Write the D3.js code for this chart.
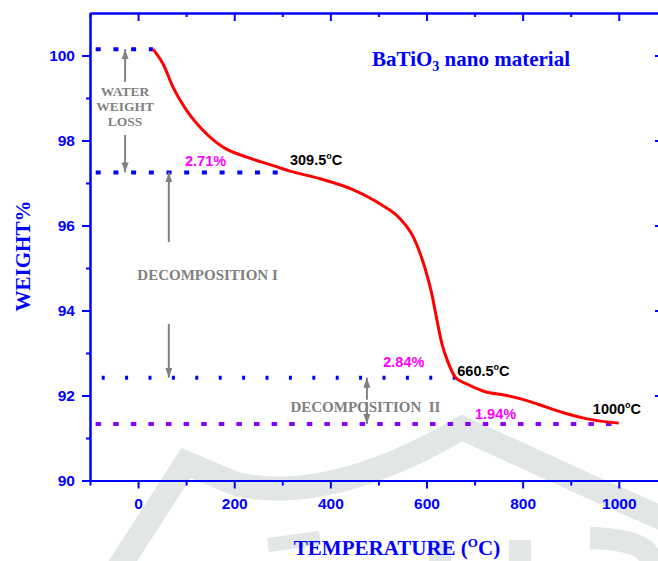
<!DOCTYPE html>
<html>
<head>
<meta charset="utf-8">
<script src="https://cdn.jsdelivr.net/npm/d3@7"></script>
<style>
    body { margin: 0; background: #fff; }
    svg { display: block; }
</style>
</head>
<body>
<div id="chart"></div>
<script>
// TGA curve of BaTiO3 nano material
var tempC = [31, 52, 73, 101, 135, 177, 226, 281, 316, 379, 448, 503, 545, 573, 594, 611, 622, 632, 646, 660, 684, 719, 767, 809, 851, 892, 934, 1000];
var weightPct = [100.15, 99.80, 99.25, 98.71, 98.24, 97.84, 97.61, 97.41, 97.28, 97.10, 96.84, 96.51, 96.16, 95.72, 95.10, 94.39, 93.76, 93.22, 92.75, 92.43, 92.27, 92.10, 92.00, 91.88, 91.72, 91.57, 91.45, 91.35];

// Dotted reference levels: weight and the temperature where each one stops
var levelWeight = [100.15, 97.25, 92.42, 91.33];
var levelEndT = [31, 316, 660, 1000];

// Step labels
var lossLabels = ["2.71%", "2.84%", "1.94%"];
var tempLabels = ["309.5", "660.5", "1000"];

// Ticks
var xMajor = [0, 200, 400, 600, 800, 1000];
var xMinor = [-100, 100, 300, 500, 700, 900];
var yMajor = [90, 92, 94, 96, 98, 100];
var yMinor = [91, 93, 95, 97, 99];

var W = 658, H = 561;
var margin = { top: 13, left: 90, right: 663, bottom: 480.5 };

var svg = d3.select("#chart").append("svg")
    .attr("width", W)
    .attr("height", H);

var xScale = d3.scaleLinear().domain([-100, 1092]).range([margin.left, margin.right]);
var yScale = d3.scaleLinear().domain([90, 101]).range([margin.bottom, margin.top]);

var blue = "#0000ff", grey = "#808080", magenta = "#ff00ff", violet = "#8a00ff";
var serif = "'Liberation Serif', 'Times New Roman', serif";
var sans = "'Liberation Sans', Arial, sans-serif";

// faint watermark in the background
var wm = svg.append("g").attr("fill", "none").attr("stroke", "#e2e6e6");
wm.append("path")
    .attr("d", "M112,578 L186,463 Q212,474 236,484 Q330,505 462,428 L580,482 Q625,502 670,522")
    .attr("stroke-width", 24);
wm.append("path").attr("d", "M268,545 L320,538").attr("stroke-width", 14);
wm.append("path").attr("d", "M440,540 L440,561 M520,540 L520,561").attr("stroke-width", 22);
wm.append("path").attr("d", "M590,538 Q650,540 650,561").attr("stroke-width", 22);

// dotted levels
var dashes = ["5,12.7", "5,12.7", "3,20.4", "5.5,12.1"];
var levelColor = [blue, blue, blue, violet];
svg.selectAll(".level")
    .data(levelWeight)
  .enter().append("line")
    .attr("class", "level")
    .attr("x1", xScale(-100))
    .attr("x2", function(d, i) { return xScale(levelEndT[i]); })
    .attr("y1", function(d) { return yScale(d); })
    .attr("y2", function(d) { return yScale(d); })
    .attr("stroke", function(d, i) { return levelColor[i]; })
    .attr("stroke-width", 4)
    .attr("stroke-dasharray", function(d, i) { return dashes[i]; })
    .attr("stroke-dashoffset", function(d, i) { return i == 2 ? 11.7 : 12; });

// arrows
var defs = svg.append("defs");
defs.append("marker")
    .attr("id", "arrow")
    .attr("markerUnits", "userSpaceOnUse")
    .attr("viewBox", "0 -4 10 8")
    .attr("refX", 10).attr("refY", 0)
    .attr("markerWidth", 10).attr("markerHeight", 8)
    .attr("orient", "auto")
  .append("path")
    .attr("d", "M0,-3.5L10,0L0,3.5Z")
    .attr("fill", grey);

var arrows = [
    [-27, 99.38, 100.15], [-27, 98.13, 97.25],
    [64, 95.61, 97.25], [64, 93.68, 92.42],
    [476, 91.9, 92.42], [476, 91.85, 91.33]
];
svg.selectAll(".arrow")
    .data(arrows)
  .enter().append("line")
    .attr("class", "arrow")
    .attr("x1", function(d) { return xScale(d[0]); })
    .attr("x2", function(d) { return xScale(d[0]); })
    .attr("y1", function(d) { return yScale(d[1]); })
    .attr("y2", function(d) { return yScale(d[2]); })
    .attr("stroke", grey)
    .attr("stroke-width", 2)
    .attr("marker-end", "url(#arrow)");

// curve
var line = d3.line()
    .x(function(d) { return xScale(d[0]); })
    .y(function(d) { return yScale(d[1]); })
    .curve(d3.curveMonotoneX);

svg.append("path")
    .datum(d3.zip(tempC, weightPct))
    .attr("d", line)
    .attr("fill", "none")
    .attr("stroke", "#ff0000")
    .attr("stroke-width", 3);

// grey region labels (water label wrapped over three lines in one text)
var water = svg.append("text")
    .attr("x", xScale(-27))
    .attr("y", yScale(99.04))
    .attr("text-anchor", "middle")
    .style("font-family", serif)
    .style("font-weight", "bold")
    .style("font-size", "13.5px")
    .style("fill", grey);
["WATER", "WEIGHT", "LOSS"].forEach(function(s, i) {
    water.append("tspan")
        .attr("x", xScale(-27))
        .attr("dy", i == 0 ? 0 : 15)
        .text(s);
});

var regionText = [
    ["DECOMPOSITION I", 144.5, 94.72], ["DECOMPOSITION\u00a0\u00a0II", 473, 91.61]
];
svg.selectAll(".region")
    .data(regionText)
  .enter().append("text")
    .attr("class", "region")
    .attr("x", function(d) { return xScale(d[1]); })
    .attr("y", function(d) { return yScale(d[2]); })
    .attr("text-anchor", "middle")
    .style("font-family", serif)
    .style("font-weight", "bold")
    .style("font-size", "15px")
    .style("fill", grey)
    .text(function(d) { return d[0]; });

// percentage labels
var lossPos = [[97.7, 97.41], [510, 92.67], [701, 91.45]];
svg.selectAll(".loss")
    .data(lossLabels)
  .enter().append("text")
    .attr("class", "loss")
    .attr("x", function(d, i) { return xScale(lossPos[i][0]); })
    .attr("y", function(d, i) { return yScale(lossPos[i][1]); })
    .style("font-family", sans)
    .style("font-weight", "bold")
    .style("font-size", "14.5px")
    .style("fill", magenta)
    .text(function(d) { return d; });

// temperature labels
var tempPos = [[316, 97.42], [664, 92.47], [946, 91.56]];
var tl = svg.selectAll(".templ")
    .data(tempLabels)
  .enter().append("text")
    .attr("class", "templ")
    .attr("x", function(d, i) { return xScale(tempPos[i][0]); })
    .attr("y", function(d, i) { return yScale(tempPos[i][1]); })
    .style("font-family", sans)
    .style("font-weight", "bold")
    .style("font-size", "14.5px")
    .style("fill", "#000");
tl.append("tspan").text(function(d) { return d; });
tl.append("tspan").attr("dy", -6).style("font-size", "9px").text("o");
tl.append("tspan").attr("dy", 6).text("C");

// axes
function styleAxis(g) {
    g.select(".domain").attr("stroke", blue).attr("stroke-width", 2);
    g.selectAll(".tick line").attr("stroke", blue).attr("stroke-width", 2);
    g.selectAll(".tick text")
        .attr("fill", blue)
        .style("font-family", sans)
        .style("font-weight", "bold")
        .style("font-size", "15.5px");
}

svg.append("g")
    .attr("transform", "translate(0," + margin.bottom + ")")
    .call(d3.axisBottom(xScale).tickValues(xMinor).tickSize(5).tickSizeOuter(0).tickFormat(""))
    .call(styleAxis);
svg.append("g")
    .attr("transform", "translate(0," + margin.bottom + ")")
    .call(d3.axisBottom(xScale).tickValues(xMajor).tickSize(8).tickSizeOuter(0).tickPadding(9).tickFormat(d3.format("d")))
    .call(styleAxis);

svg.append("g")
    .attr("transform", "translate(0," + margin.top + ")")
    .call(d3.axisBottom(xScale).tickValues(xMinor).tickSize(4).tickSizeOuter(0).tickFormat(""))
    .call(styleAxis);
svg.append("g")
    .attr("transform", "translate(0," + margin.top + ")")
    .call(d3.axisBottom(xScale).tickValues(xMajor).tickSize(8).tickSizeOuter(0).tickFormat(""))
    .call(styleAxis);

svg.append("g")
    .attr("transform", "translate(" + margin.left + ",0)")
    .call(d3.axisLeft(yScale).tickValues(yMinor).tickSize(4).tickSizeOuter(0).tickFormat(""))
    .call(styleAxis);
svg.append("g")
    .attr("transform", "translate(" + margin.left + ",0)")
    .call(d3.axisLeft(yScale).tickValues(yMajor).tickSize(8).tickSizeOuter(0).tickPadding(7))
    .call(styleAxis);

svg.append("g")
    .attr("transform", "translate(" + margin.right + ",0)")
    .call(d3.axisRight(yScale).tickValues(yMajor).tickSize(-8).tickSizeOuter(0).tickFormat(""))
    .call(styleAxis);

// titles
var title = svg.append("text")
    .attr("x", 372).attr("y", 66)
    .style("font-family", serif)
    .style("font-weight", "bold")
    .style("font-size", "21px")
    .style("fill", blue);
title.append("tspan").text("BaTiO");
title.append("tspan").attr("dy", 5).style("font-size", "14px").text("3");
title.append("tspan").attr("dy", -5).text(" nano material");

var xTitle = svg.append("text")
    .attr("x", 397).attr("y", 555)
    .attr("text-anchor", "middle")
    .style("font-family", serif)
    .style("font-weight", "bold")
    .style("font-size", "21px")
    .style("fill", blue);
xTitle.append("tspan").text("TEMPERATURE (");
xTitle.append("tspan").attr("dy", -8).style("font-size", "13px").text("O");
xTitle.append("tspan").attr("dy", 8).text("C)");

svg.append("text")
    .attr("transform", "translate(30,256) rotate(-90)")
    .attr("text-anchor", "middle")
    .style("font-family", serif)
    .style("font-weight", "bold")
    .style("font-size", "21px")
    .style("fill", blue)
    .text("WEIGHT%");
</script>
</body>
</html>
